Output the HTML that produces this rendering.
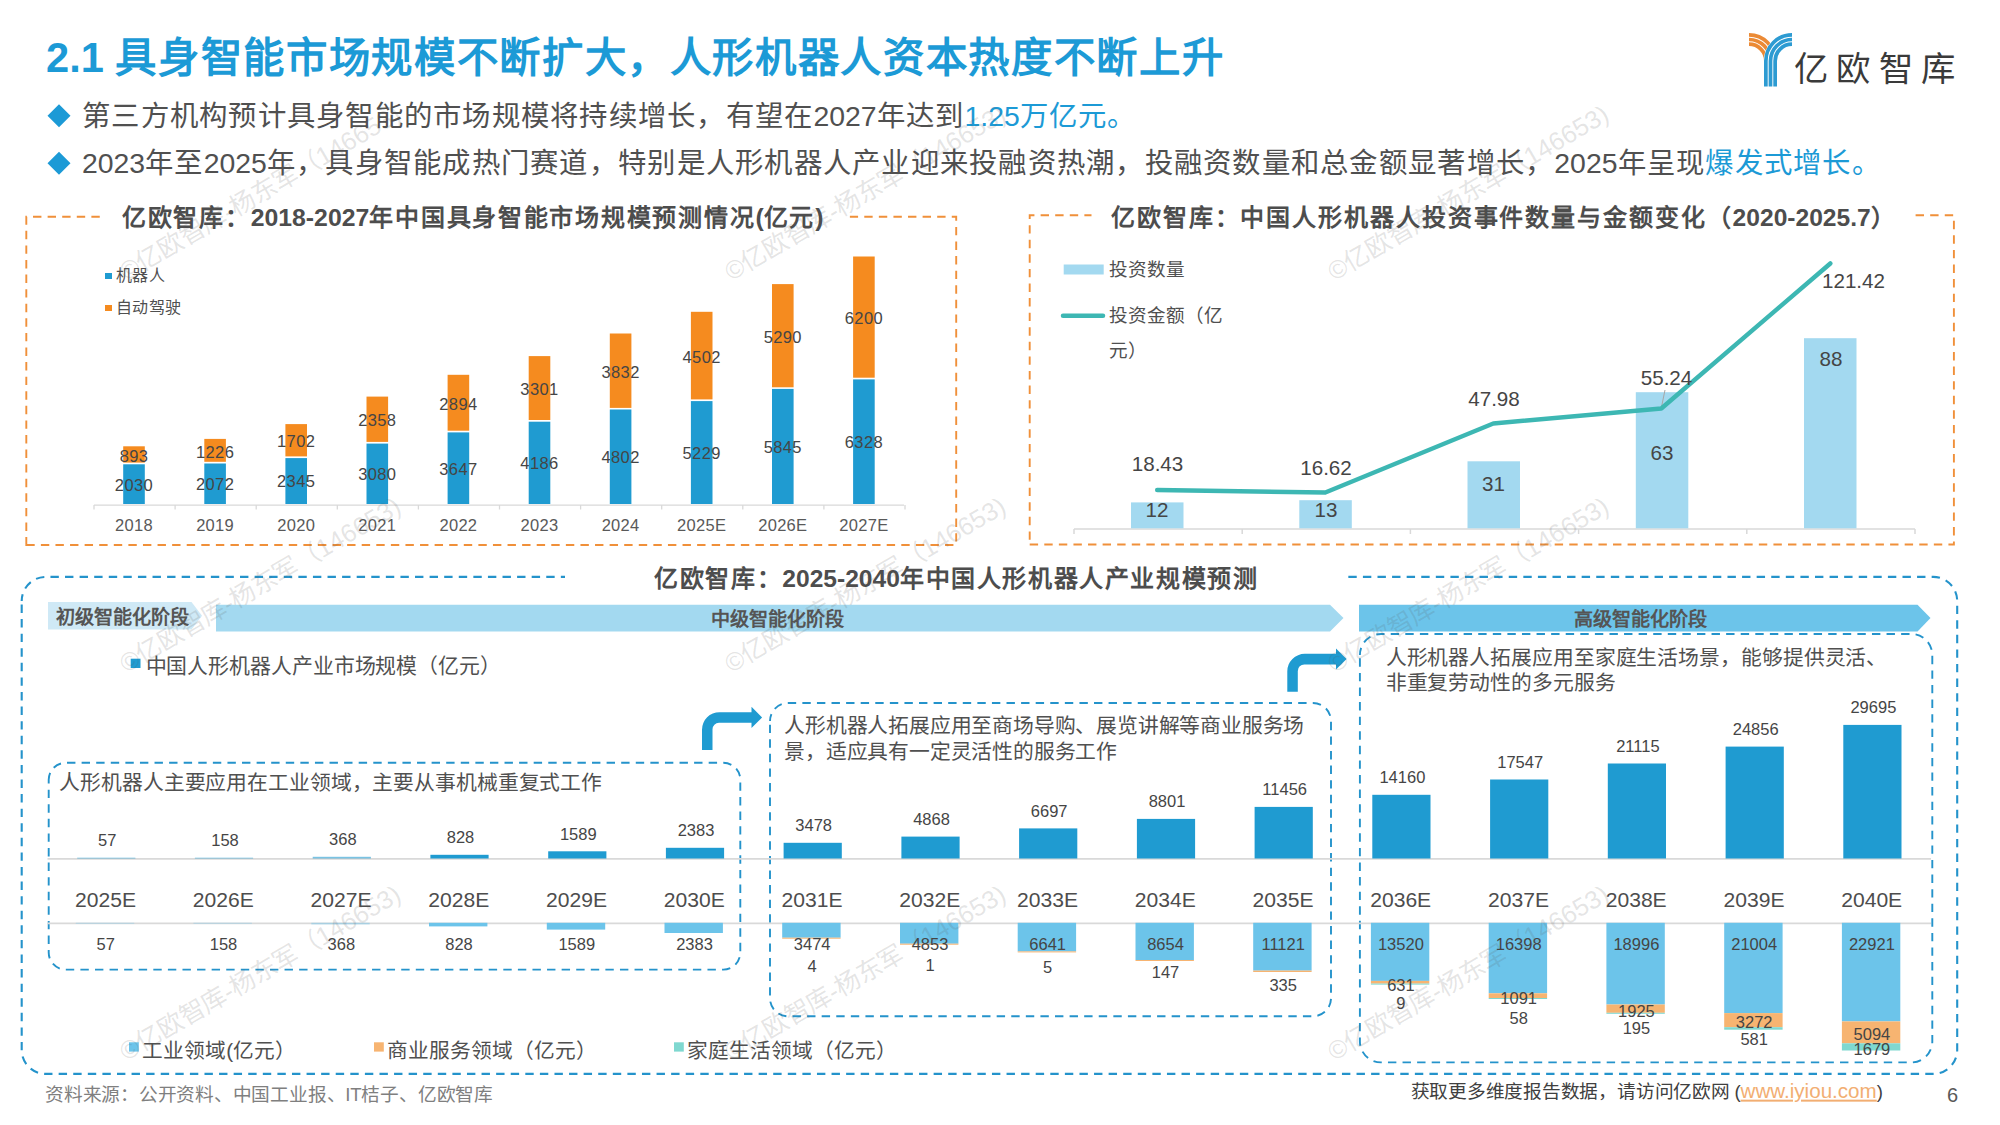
<!DOCTYPE html>
<html lang="zh-CN"><head><meta charset="utf-8"><title>2.1 具身智能市场规模</title>
<style>
html,body{margin:0;padding:0;background:#fff}
#p{position:relative;width:2000px;height:1125px;overflow:hidden;background:#fff;font-family:"Liberation Sans",sans-serif;color:#404040;font-weight:300}
#p svg{position:absolute;left:0;top:0}
.t{position:absolute;white-space:nowrap;line-height:1}
.a{letter-spacing:0}
.l{transform:translateY(-50%)}
.c{transform:translate(-50%,-50%)}
.r{transform:translate(-100%,-50%)}
.wm{position:absolute;white-space:nowrap;line-height:1;font-size:25.4px;color:rgba(90,90,90,0.165);font-weight:300;transform-origin:0 50%;transform:translateY(-50%) rotate(-30.3deg)}
</style></head><body><div id="p">
<svg width="2000" height="1125" viewBox="0 0 2000 1125">
<path d="M59 104.3 L70.5 115.8 L59 127.3 L47.5 115.8 Z" fill="#1C9AD6"/>
<path d="M59 151.8 L70.5 163.3 L59 174.8 L47.5 163.3 Z" fill="#1C9AD6"/>
<path d="M1763.5 86.6 V61 A28.5 28.5 0 0 1 1792 32.5 V47.5 A13.5 13.5 0 0 0 1777.7 61 V86.6 Z" fill="#fff"/>
<path d="M1749 44.15 A16.85 16.85 0 0 1 1765.85 61" fill="none" stroke="#EB8A35" stroke-width="3.7"/><path d="M1749 39.5 A21.5 21.5 0 0 1 1770.5 61" fill="none" stroke="#EB8A35" stroke-width="3.7"/><path d="M1749 34.85 A26.15 26.15 0 0 1 1775.15 61" fill="none" stroke="#EB8A35" stroke-width="3.7"/>
<path d="M1763.6 86.6 V61 A28.4 28.4 0 0 1 1792 32.6 V47.4 A13.6 13.6 0 0 0 1777.6 61 V86.6 Z" fill="#fff"/>
<path d="M1775.15 86.6 V61 A16.85 16.85 0 0 1 1792 44.15" fill="none" stroke="#2D9BD2" stroke-width="3.7"/><path d="M1770.5 86.6 V61 A21.5 21.5 0 0 1 1792 39.5" fill="none" stroke="#2D9BD2" stroke-width="3.7"/><path d="M1765.85 86.6 V61 A26.15 26.15 0 0 1 1792 34.85" fill="none" stroke="#2D9BD2" stroke-width="3.7"/>
<path d="M26.3 545 H956.2 V216.8 H26.3 Z" fill="none" stroke="#F0903A" stroke-width="1.9" stroke-dasharray="8.4 6.183"/>
<rect x="100.6" y="205" width="749" height="24" fill="#fff"/>
<rect x="105" y="273" width="7" height="6" fill="#1F9BD1"/>
<rect x="105" y="305" width="7" height="6" fill="#F58B1F"/>
<path d="M94 505.1 H904" stroke="#D9D9D9" stroke-width="1.3" fill="none"/>
<path d="M94.0 505 V509.5" stroke="#D9D9D9" stroke-width="1.3"/>
<path d="M175.1 505 V509.5" stroke="#D9D9D9" stroke-width="1.3"/>
<path d="M256.2 505 V509.5" stroke="#D9D9D9" stroke-width="1.3"/>
<path d="M337.3 505 V509.5" stroke="#D9D9D9" stroke-width="1.3"/>
<path d="M418.4 505 V509.5" stroke="#D9D9D9" stroke-width="1.3"/>
<path d="M499.5 505 V509.5" stroke="#D9D9D9" stroke-width="1.3"/>
<path d="M580.6 505 V509.5" stroke="#D9D9D9" stroke-width="1.3"/>
<path d="M661.7 505 V509.5" stroke="#D9D9D9" stroke-width="1.3"/>
<path d="M742.8 505 V509.5" stroke="#D9D9D9" stroke-width="1.3"/>
<path d="M823.9 505 V509.5" stroke="#D9D9D9" stroke-width="1.3"/>
<path d="M905.0 505 V509.5" stroke="#D9D9D9" stroke-width="1.3"/>
<rect x="123.2" y="464.3" width="21.6" height="39.7" fill="#1F9BD1"/>
<rect x="123.2" y="446.3" width="21.6" height="16.3" fill="#F58B1F"/>
<rect x="204.3" y="463.5" width="21.6" height="40.5" fill="#1F9BD1"/>
<rect x="204.3" y="438.9" width="21.6" height="22.9" fill="#F58B1F"/>
<rect x="285.4" y="458.1" width="21.6" height="45.9" fill="#1F9BD1"/>
<rect x="285.4" y="424.1" width="21.6" height="32.3" fill="#F58B1F"/>
<rect x="366.5" y="443.6" width="21.6" height="60.4" fill="#1F9BD1"/>
<rect x="366.5" y="396.6" width="21.6" height="45.3" fill="#F58B1F"/>
<rect x="447.6" y="432.4" width="21.6" height="71.6" fill="#1F9BD1"/>
<rect x="447.6" y="374.8" width="21.6" height="55.9" fill="#F58B1F"/>
<rect x="528.7" y="421.7" width="21.6" height="82.3" fill="#1F9BD1"/>
<rect x="528.7" y="356.1" width="21.6" height="63.9" fill="#F58B1F"/>
<rect x="609.8" y="409.5" width="21.6" height="94.5" fill="#1F9BD1"/>
<rect x="609.8" y="333.5" width="21.6" height="74.4" fill="#F58B1F"/>
<rect x="690.9" y="401.1" width="21.6" height="102.9" fill="#1F9BD1"/>
<rect x="690.9" y="311.8" width="21.6" height="87.6" fill="#F58B1F"/>
<rect x="772.0" y="388.9" width="21.6" height="115.1" fill="#1F9BD1"/>
<rect x="772.0" y="284.1" width="21.6" height="103.2" fill="#F58B1F"/>
<rect x="853.1" y="379.4" width="21.6" height="124.6" fill="#1F9BD1"/>
<rect x="853.1" y="256.5" width="21.6" height="121.2" fill="#F58B1F"/>
<path d="M1029.7 544.5 H1953.9 V215.3 H1029.7 Z" fill="none" stroke="#F0903A" stroke-width="1.9" stroke-dasharray="8.4 6.183"/>
<rect x="1091.5" y="205" width="822" height="24" fill="#fff"/>
<rect x="1063.7" y="264.5" width="40" height="10" fill="#A3D9F0"/>
<path d="M1063 315.8 H1103" stroke="#3DB7B3" stroke-width="4.5" stroke-linecap="round"/>
<path d="M1074 529 H1915" stroke="#D9D9D9" stroke-width="1.5" fill="none"/>
<path d="M1074.0 529 V534" stroke="#D9D9D9" stroke-width="1.5"/>
<path d="M1242.2 529 V534" stroke="#D9D9D9" stroke-width="1.5"/>
<path d="M1410.4 529 V534" stroke="#D9D9D9" stroke-width="1.5"/>
<path d="M1578.6 529 V534" stroke="#D9D9D9" stroke-width="1.5"/>
<path d="M1746.8 529 V534" stroke="#D9D9D9" stroke-width="1.5"/>
<path d="M1915.0 529 V534" stroke="#D9D9D9" stroke-width="1.5"/>
<rect x="1131.0" y="502.4" width="52.5" height="25.9" fill="#A3D9F0"/>
<rect x="1299.3" y="500.2" width="52.5" height="28.1" fill="#A3D9F0"/>
<rect x="1467.5" y="461.3" width="52.5" height="67.0" fill="#A3D9F0"/>
<rect x="1635.8" y="392.2" width="52.5" height="136.1" fill="#A3D9F0"/>
<rect x="1804.0" y="338.2" width="52.5" height="190.1" fill="#A3D9F0"/>
<path d="M1665 390 L1661.5 407" stroke="#a6a6a6" stroke-width="1"/>
<path d="M1157.2 490 L1325.3 492.5 L1493.3 423.5 L1661.3 408.5 L1830.3 263.5" fill="none" stroke="#3DB7B3" stroke-width="4.5" stroke-linejoin="round" stroke-linecap="round"/>
<path d="M21.7 600.9 A24 24 0 0 1 45.7 576.9 H1933.2 A24 24 0 0 1 1957.2 600.9 V1049.9 A24 24 0 0 1 1933.2 1073.9 H45.7 A24 24 0 0 1 21.7 1049.9 Z" fill="none" stroke="#2493CB" stroke-width="2.1" stroke-dasharray="8.4 6.183" stroke-dashoffset="1.55"/><rect x="565" y="566" width="781.5" height="24" fill="#fff"/>
<path d="M48 602 H191.5 L202 615.8 L191.5 629.5 H48 Z" fill="#CFE9F6"/>
<path d="M216 604.8 H1330 L1343.5 618.1 L1330 631.4 H216 Z" fill="#A3D9F0"/>
<path d="M1359 604.8 H1917.5 L1930.5 618.1 L1917.5 631.4 H1359 Z" fill="#6CC4EA"/>
<rect x="130.7" y="658.7" width="9.8" height="9.3" fill="#1F9BD1"/>
<path d="M48.7 779.8 A17 17 0 0 1 65.7 762.8 H723.3 A17 17 0 0 1 740.3 779.8 V952.6 A17 17 0 0 1 723.3 969.6 H65.7 A17 17 0 0 1 48.7 952.6 Z" fill="none" stroke="#2493CB" stroke-width="1.9" stroke-dasharray="8.4 6.183" stroke-dashoffset="1.3"/>
<path d="M770 721 A18 18 0 0 1 788 703 H1313 A18 18 0 0 1 1331 721 V998.3 A18 18 0 0 1 1313 1016.3 H788 A18 18 0 0 1 770 998.3 Z" fill="none" stroke="#2493CB" stroke-width="1.9" stroke-dasharray="8.4 6.183" stroke-dashoffset="1.3"/>
<path d="M1359.9 655 A21 21 0 0 1 1380.9 634 H1911.3 A21 21 0 0 1 1932.3 655 V1041.4 A21 21 0 0 1 1911.3 1062.4 H1380.9 A21 21 0 0 1 1359.9 1041.4 Z" fill="none" stroke="#2493CB" stroke-width="1.9" stroke-dasharray="8.4 6.183" stroke-dashoffset="1.15"/>
<path d="M702 750.0999999999999 V729.6999999999999 A17.5 17.5 0 0 1 719.5 712.1999999999999 H751.5 V706.8 L762.1 717.4 L751.5 728.0 V722.8 H719 A6.5 6.5 0 0 0 712.5 729.3 V750.0999999999999 Z" fill="#1F9BD1"/>
<path d="M1287.3 691.6999999999999 V671.3 A17.5 17.5 0 0 1 1304.8 653.8 H1336.0 V648.4 L1346.6 659.0 L1336.0 669.6 V664.4 H1304.3 A6.5 6.5 0 0 0 1297.8 670.9 V691.6999999999999 Z" fill="#1F9BD1"/>
<path d="M47.5 858.9 H1931 M47.5 923.4 H1931" stroke="#D9D9D9" stroke-width="1.6" fill="none"/>
<rect x="77.2" y="857.7" width="58.2" height="0.8" fill="#1F9BD1" opacity="0.6"/>
<rect x="75.8" y="922.8" width="58.4" height="0.8" fill="#6CC4EA" opacity="0.45"/>
<rect x="194.9" y="857.7" width="58.2" height="0.8" fill="#1F9BD1" opacity="0.6"/>
<rect x="193.5" y="922.8" width="58.4" height="0.8" fill="#6CC4EA" opacity="0.45"/>
<rect x="312.7" y="856.8" width="58.2" height="1.7" fill="#1F9BD1" opacity="0.6"/>
<rect x="311.3" y="922.8" width="58.4" height="1.6" fill="#6CC4EA" opacity="0.45"/>
<rect x="430.4" y="854.8" width="58.2" height="3.7" fill="#1F9BD1" opacity="1"/>
<rect x="429.0" y="922.8" width="58.4" height="3.6" fill="#6CC4EA" opacity="1"/>
<rect x="548.2" y="851.3" width="58.2" height="7.2" fill="#1F9BD1" opacity="1"/>
<rect x="546.8" y="922.8" width="58.4" height="6.8" fill="#6CC4EA" opacity="1"/>
<rect x="665.9" y="847.8" width="58.2" height="10.7" fill="#1F9BD1" opacity="1"/>
<rect x="664.5" y="922.8" width="58.4" height="10.2" fill="#6CC4EA" opacity="1"/>
<rect x="783.6" y="842.8" width="58.2" height="15.7" fill="#1F9BD1" opacity="1"/>
<rect x="782.2" y="922.8" width="58.4" height="14.9" fill="#6CC4EA" opacity="1"/>
<rect x="782.2" y="937.7" width="58.4" height="1.0" fill="#F7B471"/>
<rect x="901.4" y="836.6" width="58.2" height="21.9" fill="#1F9BD1" opacity="1"/>
<rect x="900.0" y="922.8" width="58.4" height="20.9" fill="#6CC4EA" opacity="1"/>
<rect x="900.0" y="943.7" width="58.4" height="1.0" fill="#F7B471"/>
<rect x="1019.1" y="828.4" width="58.2" height="30.1" fill="#1F9BD1" opacity="1"/>
<rect x="1017.7" y="922.8" width="58.4" height="28.6" fill="#6CC4EA" opacity="1"/>
<rect x="1017.7" y="951.4" width="58.4" height="1.0" fill="#F7B471"/>
<rect x="1136.9" y="818.9" width="58.2" height="39.6" fill="#1F9BD1" opacity="1"/>
<rect x="1135.5" y="922.8" width="58.4" height="37.2" fill="#6CC4EA" opacity="1"/>
<rect x="1135.5" y="960.0" width="58.4" height="1.0" fill="#F7B471"/>
<rect x="1254.6" y="806.9" width="58.2" height="51.6" fill="#1F9BD1" opacity="1"/>
<rect x="1253.2" y="922.8" width="58.4" height="47.8" fill="#6CC4EA" opacity="1"/>
<rect x="1253.2" y="970.6" width="58.4" height="1.4" fill="#F7B471"/>
<rect x="1372.3" y="794.8" width="58.2" height="63.7" fill="#1F9BD1" opacity="1"/>
<rect x="1370.9" y="922.8" width="58.4" height="58.1" fill="#6CC4EA" opacity="1"/>
<rect x="1370.9" y="980.9" width="58.4" height="2.7" fill="#F7B471"/>
<rect x="1370.9" y="983.6" width="58.4" height="1.0" fill="#7FD8D0"/>
<rect x="1490.1" y="779.5" width="58.2" height="79.0" fill="#1F9BD1" opacity="1"/>
<rect x="1488.7" y="922.8" width="58.4" height="70.5" fill="#6CC4EA" opacity="1"/>
<rect x="1488.7" y="993.3" width="58.4" height="4.7" fill="#F7B471"/>
<rect x="1488.7" y="998.0" width="58.4" height="1.0" fill="#7FD8D0"/>
<rect x="1607.8" y="763.5" width="58.2" height="95.0" fill="#1F9BD1" opacity="1"/>
<rect x="1606.4" y="922.8" width="58.4" height="81.7" fill="#6CC4EA" opacity="1"/>
<rect x="1606.4" y="1004.5" width="58.4" height="8.3" fill="#F7B471"/>
<rect x="1606.4" y="1012.8" width="58.4" height="1.0" fill="#7FD8D0"/>
<rect x="1725.6" y="746.6" width="58.2" height="111.9" fill="#1F9BD1" opacity="1"/>
<rect x="1724.2" y="922.8" width="58.4" height="90.3" fill="#6CC4EA" opacity="1"/>
<rect x="1724.2" y="1013.1" width="58.4" height="14.1" fill="#F7B471"/>
<rect x="1724.2" y="1027.2" width="58.4" height="2.5" fill="#7FD8D0"/>
<rect x="1843.3" y="724.9" width="58.2" height="133.6" fill="#1F9BD1" opacity="1"/>
<rect x="1841.9" y="922.8" width="58.4" height="98.6" fill="#6CC4EA" opacity="1"/>
<rect x="1841.9" y="1021.4" width="58.4" height="21.9" fill="#F7B471"/>
<rect x="1841.9" y="1043.3" width="58.4" height="7.2" fill="#7FD8D0"/>
<rect x="129" y="1042.3" width="9.8" height="9.3" fill="#6CC4EA"/>
<rect x="374" y="1042.3" width="9.8" height="9.3" fill="#F7B471"/>
<rect x="674" y="1042.3" width="9.8" height="9.3" fill="#7FD8D0"/>
</svg>
<div class="t l" style="left:46.0px;top:57.50px;font-size:41.4px;color:#1C9AD6;letter-spacing:1.65px;font-weight:bold;"><span class="a" style="font-size:41.6px">2.1 </span>具身智能市场规模不断扩大，人形机器人资本热度不断上升</div>
<div class="t l" style="left:82.0px;top:115.50px;font-size:28.4px;color:#505050;letter-spacing:1.26px;">第三方机构预计具身智能的市场规模将持续增长，有望在<span class="a" style="font-size:28.4px">2027</span>年达到<span style="color:#1C9AD6"><span class="a" style="font-size:28.4px">1.25</span>万亿元。</span></div>
<div class="t l" style="left:82.0px;top:163.00px;font-size:28.4px;color:#505050;letter-spacing:1.26px;"><span class="a" style="font-size:28.4px">2023</span>年至<span class="a" style="font-size:28.4px">2025</span>年，具身智能成热门赛道，特别是人形机器人产业迎来投融资热潮，投融资数量和总金额显著增长，<span class="a" style="font-size:28.4px">2025</span>年呈现<span style="color:#1C9AD6">爆发式增长。</span></div>
<div class="t l" style="left:1793.5px;top:69.00px;font-size:34.4px;color:#3a3a3a;letter-spacing:8.5px;font-weight:300;">亿欧智库</div>
<div class="t l" style="left:122.0px;top:217.50px;font-size:24px;color:#4d4d4d;letter-spacing:1.74px;font-weight:bold;">亿欧智库：<span class="a" style="font-size:24.8px">2018-2027</span>年中国具身智能市场规模预测情况<span class="a" style="font-size:24.8px">(</span>亿元<span class="a" style="font-size:24.8px">)</span></div>
<div class="t l" style="left:116.0px;top:276.00px;font-size:16px;color:#505050;letter-spacing:0.25px;">机器人</div>
<div class="t l" style="left:116.0px;top:307.50px;font-size:16px;color:#505050;letter-spacing:0.25px;">自动驾驶</div>
<div class="t c" style="left:134.0px;top:484.55px;font-size:16.5px;color:#454545;letter-spacing:0.4px;">2030</div>
<div class="t c" style="left:134.0px;top:455.68px;font-size:16.5px;color:#454545;letter-spacing:0.4px;">893</div>
<div class="t c" style="left:134.0px;top:524.50px;font-size:16.5px;color:#595959;letter-spacing:0.3px;">2018</div>
<div class="t c" style="left:215.1px;top:484.14px;font-size:16.5px;color:#454545;letter-spacing:0.4px;">2072</div>
<div class="t c" style="left:215.1px;top:451.56px;font-size:16.5px;color:#454545;letter-spacing:0.4px;">1226</div>
<div class="t c" style="left:215.1px;top:524.50px;font-size:16.5px;color:#595959;letter-spacing:0.3px;">2019</div>
<div class="t c" style="left:296.2px;top:481.44px;font-size:16.5px;color:#454545;letter-spacing:0.4px;">2345</div>
<div class="t c" style="left:296.2px;top:441.47px;font-size:16.5px;color:#454545;letter-spacing:0.4px;">1702</div>
<div class="t c" style="left:296.2px;top:524.50px;font-size:16.5px;color:#595959;letter-spacing:0.3px;">2020</div>
<div class="t c" style="left:377.3px;top:474.18px;font-size:16.5px;color:#454545;letter-spacing:0.4px;">3080</div>
<div class="t c" style="left:377.3px;top:420.47px;font-size:16.5px;color:#454545;letter-spacing:0.4px;">2358</div>
<div class="t c" style="left:377.3px;top:524.50px;font-size:16.5px;color:#595959;letter-spacing:0.3px;">2021</div>
<div class="t c" style="left:458.4px;top:468.58px;font-size:16.5px;color:#454545;letter-spacing:0.4px;">3647</div>
<div class="t c" style="left:458.4px;top:403.98px;font-size:16.5px;color:#454545;letter-spacing:0.4px;">2894</div>
<div class="t c" style="left:458.4px;top:524.50px;font-size:16.5px;color:#595959;letter-spacing:0.3px;">2022</div>
<div class="t c" style="left:539.5px;top:463.26px;font-size:16.5px;color:#454545;letter-spacing:0.4px;">4186</div>
<div class="t c" style="left:539.5px;top:389.31px;font-size:16.5px;color:#454545;letter-spacing:0.4px;">3301</div>
<div class="t c" style="left:539.5px;top:524.50px;font-size:16.5px;color:#595959;letter-spacing:0.3px;">2023</div>
<div class="t c" style="left:620.6px;top:457.17px;font-size:16.5px;color:#454545;letter-spacing:0.4px;">4802</div>
<div class="t c" style="left:620.6px;top:371.90px;font-size:16.5px;color:#454545;letter-spacing:0.4px;">3832</div>
<div class="t c" style="left:620.6px;top:524.50px;font-size:16.5px;color:#595959;letter-spacing:0.3px;">2024</div>
<div class="t c" style="left:701.7px;top:452.96px;font-size:16.5px;color:#454545;letter-spacing:0.4px;">5229</div>
<div class="t c" style="left:701.7px;top:356.85px;font-size:16.5px;color:#454545;letter-spacing:0.4px;">4502</div>
<div class="t c" style="left:701.7px;top:524.50px;font-size:16.5px;color:#595959;letter-spacing:0.3px;">2025E</div>
<div class="t c" style="left:782.8px;top:446.87px;font-size:16.5px;color:#454545;letter-spacing:0.4px;">5845</div>
<div class="t c" style="left:782.8px;top:336.90px;font-size:16.5px;color:#454545;letter-spacing:0.4px;">5290</div>
<div class="t c" style="left:782.8px;top:524.50px;font-size:16.5px;color:#595959;letter-spacing:0.3px;">2026E</div>
<div class="t c" style="left:863.9px;top:442.10px;font-size:16.5px;color:#454545;letter-spacing:0.4px;">6328</div>
<div class="t c" style="left:863.9px;top:318.37px;font-size:16.5px;color:#454545;letter-spacing:0.4px;">6200</div>
<div class="t c" style="left:863.9px;top:524.50px;font-size:16.5px;color:#595959;letter-spacing:0.3px;">2027E</div>
<div class="t l" style="left:1111.0px;top:218.00px;font-size:24px;color:#4d4d4d;letter-spacing:1.9px;font-weight:bold;">亿欧智库：中国人形机器人投资事件数量与金额变化（<span class="a" style="font-size:24.6px">2020-2025.7</span>）</div>
<div class="t l" style="left:1108.5px;top:270.00px;font-size:18.6px;color:#505050;">投资数量</div>
<div class="t l" style="left:1108.5px;top:316.00px;font-size:18.6px;color:#505050;">投资金额（亿</div>
<div class="t l" style="left:1108.5px;top:350.50px;font-size:18.6px;color:#505050;">元）</div>
<div class="t c" style="left:1157.0px;top:510.00px;font-size:20.6px;color:#454545;">12</div>
<div class="t c" style="left:1326.0px;top:510.00px;font-size:20.6px;color:#454545;">13</div>
<div class="t c" style="left:1493.5px;top:484.00px;font-size:20.6px;color:#454545;">31</div>
<div class="t c" style="left:1662.0px;top:453.00px;font-size:20.6px;color:#454545;">63</div>
<div class="t c" style="left:1831.0px;top:359.00px;font-size:20.6px;color:#454545;">88</div>
<div class="t c" style="left:1157.5px;top:464.00px;font-size:20.6px;color:#454545;">18.43</div>
<div class="t c" style="left:1326.0px;top:468.00px;font-size:20.6px;color:#454545;">16.62</div>
<div class="t c" style="left:1494.0px;top:398.50px;font-size:20.6px;color:#454545;">47.98</div>
<div class="t c" style="left:1666.5px;top:378.00px;font-size:20.6px;color:#454545;">55.24</div>
<div class="t c" style="left:1853.5px;top:281.00px;font-size:20.6px;color:#454545;">121.42</div>
<div class="t c" style="left:956.3px;top:579.00px;font-size:24px;color:#4d4d4d;letter-spacing:1.6px;font-weight:bold;">亿欧智库：<span class="a" style="font-size:24.6px">2025-2040</span>年中国人形机器人产业规模预测</div>
<div class="t c" style="left:122.0px;top:617.50px;font-size:19.1px;color:#555;font-weight:bold;">初级智能化阶段</div>
<div class="t c" style="left:777.0px;top:620.00px;font-size:19.1px;color:#555;font-weight:bold;">中级智能化阶段</div>
<div class="t c" style="left:1640.0px;top:620.00px;font-size:19.1px;color:#555;font-weight:bold;">高级智能化阶段</div>
<div class="t l" style="left:145.5px;top:666.00px;font-size:20.9px;color:#505050;letter-spacing:-0.1px;">中国人形机器人产业市场规模（亿元）</div>
<div class="t l" style="left:59.4px;top:782.50px;font-size:20.8px;color:#505050;letter-spacing:-0.13px;">人形机器人主要应用在工业领域，主要从事机械重复式工作</div>
<div class="t l" style="left:784.2px;top:725.70px;font-size:20.8px;color:#505050;letter-spacing:-0.2px;">人形机器人拓展应用至商场导购、展览讲解等商业服务场</div>
<div class="t l" style="left:784.2px;top:752.00px;font-size:20.8px;color:#505050;letter-spacing:-0.2px;">景，适应具有一定灵活性的服务工作</div>
<div class="t l" style="left:1385.7px;top:657.50px;font-size:20.8px;color:#505050;letter-spacing:-0.1px;">人形机器人拓展应用至家庭生活场景，能够提供灵活、</div>
<div class="t l" style="left:1385.7px;top:682.50px;font-size:20.8px;color:#505050;letter-spacing:-0.1px;">非重复劳动性的多元服务</div>
<div class="t c" style="left:107.3px;top:840.39px;font-size:16.5px;color:#454545;">57</div>
<div class="t c" style="left:105.6px;top:900.00px;font-size:21.1px;color:#4d4d4d;">2025E</div>
<div class="t c" style="left:105.8px;top:943.50px;font-size:16.5px;color:#454545;">57</div>
<div class="t c" style="left:225.0px;top:839.94px;font-size:16.5px;color:#454545;">158</div>
<div class="t c" style="left:223.3px;top:900.00px;font-size:21.1px;color:#4d4d4d;">2026E</div>
<div class="t c" style="left:223.5px;top:943.50px;font-size:16.5px;color:#454545;">158</div>
<div class="t c" style="left:342.8px;top:838.99px;font-size:16.5px;color:#454545;">368</div>
<div class="t c" style="left:341.1px;top:900.00px;font-size:21.1px;color:#4d4d4d;">2027E</div>
<div class="t c" style="left:341.3px;top:943.50px;font-size:16.5px;color:#454545;">368</div>
<div class="t c" style="left:460.5px;top:836.92px;font-size:16.5px;color:#454545;">828</div>
<div class="t c" style="left:458.8px;top:900.00px;font-size:21.1px;color:#4d4d4d;">2028E</div>
<div class="t c" style="left:459.0px;top:943.50px;font-size:16.5px;color:#454545;">828</div>
<div class="t c" style="left:578.3px;top:833.50px;font-size:16.5px;color:#454545;">1589</div>
<div class="t c" style="left:576.6px;top:900.00px;font-size:21.1px;color:#4d4d4d;">2029E</div>
<div class="t c" style="left:576.8px;top:943.50px;font-size:16.5px;color:#454545;">1589</div>
<div class="t c" style="left:696.0px;top:829.93px;font-size:16.5px;color:#454545;">2383</div>
<div class="t c" style="left:694.3px;top:900.00px;font-size:21.1px;color:#4d4d4d;">2030E</div>
<div class="t c" style="left:694.5px;top:943.50px;font-size:16.5px;color:#454545;">2383</div>
<div class="t c" style="left:813.7px;top:825.00px;font-size:16.5px;color:#454545;">3478</div>
<div class="t c" style="left:812.0px;top:900.00px;font-size:21.1px;color:#4d4d4d;">2031E</div>
<div class="t c" style="left:812.2px;top:943.50px;font-size:16.5px;color:#454545;">3474</div>
<div class="t c" style="left:812.2px;top:965.90px;font-size:16.5px;color:#454545;">4</div>
<div class="t c" style="left:931.5px;top:818.74px;font-size:16.5px;color:#454545;">4868</div>
<div class="t c" style="left:929.8px;top:900.00px;font-size:21.1px;color:#4d4d4d;">2032E</div>
<div class="t c" style="left:930.0px;top:943.50px;font-size:16.5px;color:#454545;">4853</div>
<div class="t c" style="left:930.0px;top:964.70px;font-size:16.5px;color:#454545;">1</div>
<div class="t c" style="left:1049.2px;top:810.51px;font-size:16.5px;color:#454545;">6697</div>
<div class="t c" style="left:1047.5px;top:900.00px;font-size:21.1px;color:#4d4d4d;">2033E</div>
<div class="t c" style="left:1047.7px;top:943.50px;font-size:16.5px;color:#454545;">6641</div>
<div class="t c" style="left:1047.7px;top:967.20px;font-size:16.5px;color:#454545;">5</div>
<div class="t c" style="left:1167.0px;top:801.05px;font-size:16.5px;color:#454545;">8801</div>
<div class="t c" style="left:1165.3px;top:900.00px;font-size:21.1px;color:#4d4d4d;">2034E</div>
<div class="t c" style="left:1165.5px;top:943.50px;font-size:16.5px;color:#454545;">8654</div>
<div class="t c" style="left:1165.5px;top:971.70px;font-size:16.5px;color:#454545;">147</div>
<div class="t c" style="left:1284.7px;top:789.10px;font-size:16.5px;color:#454545;">11456</div>
<div class="t c" style="left:1283.0px;top:900.00px;font-size:21.1px;color:#4d4d4d;">2035E</div>
<div class="t c" style="left:1283.2px;top:943.50px;font-size:16.5px;color:#454545;">11121</div>
<div class="t c" style="left:1283.2px;top:984.50px;font-size:16.5px;color:#454545;">335</div>
<div class="t c" style="left:1402.4px;top:776.93px;font-size:16.5px;color:#454545;">14160</div>
<div class="t c" style="left:1400.7px;top:900.00px;font-size:21.1px;color:#4d4d4d;">2036E</div>
<div class="t c" style="left:1400.9px;top:943.50px;font-size:16.5px;color:#454545;">13520</div>
<div class="t c" style="left:1400.9px;top:984.50px;font-size:16.5px;color:#454545;">631</div>
<div class="t c" style="left:1400.9px;top:1002.50px;font-size:16.5px;color:#454545;">9</div>
<div class="t c" style="left:1520.2px;top:761.69px;font-size:16.5px;color:#454545;">17547</div>
<div class="t c" style="left:1518.5px;top:900.00px;font-size:21.1px;color:#4d4d4d;">2037E</div>
<div class="t c" style="left:1518.7px;top:943.50px;font-size:16.5px;color:#454545;">16398</div>
<div class="t c" style="left:1518.7px;top:998.20px;font-size:16.5px;color:#454545;">1091</div>
<div class="t c" style="left:1518.7px;top:1018.10px;font-size:16.5px;color:#454545;">58</div>
<div class="t c" style="left:1637.9px;top:745.63px;font-size:16.5px;color:#454545;">21115</div>
<div class="t c" style="left:1636.2px;top:900.00px;font-size:21.1px;color:#4d4d4d;">2038E</div>
<div class="t c" style="left:1636.4px;top:943.50px;font-size:16.5px;color:#454545;">18996</div>
<div class="t c" style="left:1636.4px;top:1010.60px;font-size:16.5px;color:#454545;">1925</div>
<div class="t c" style="left:1636.4px;top:1027.80px;font-size:16.5px;color:#454545;">195</div>
<div class="t c" style="left:1755.7px;top:728.80px;font-size:16.5px;color:#454545;">24856</div>
<div class="t c" style="left:1754.0px;top:900.00px;font-size:21.1px;color:#4d4d4d;">2039E</div>
<div class="t c" style="left:1754.2px;top:943.50px;font-size:16.5px;color:#454545;">21004</div>
<div class="t c" style="left:1754.2px;top:1021.80px;font-size:16.5px;color:#454545;">3272</div>
<div class="t c" style="left:1754.2px;top:1038.60px;font-size:16.5px;color:#454545;">581</div>
<div class="t c" style="left:1873.4px;top:707.02px;font-size:16.5px;color:#454545;">29695</div>
<div class="t c" style="left:1871.7px;top:900.00px;font-size:21.1px;color:#4d4d4d;">2040E</div>
<div class="t c" style="left:1871.9px;top:943.50px;font-size:16.5px;color:#454545;">22921</div>
<div class="t c" style="left:1871.9px;top:1033.70px;font-size:16.5px;color:#454545;">5094</div>
<div class="t c" style="left:1871.9px;top:1048.70px;font-size:16.5px;color:#454545;">1679</div>
<div class="t l" style="left:142.3px;top:1051.20px;font-size:20.7px;color:#505050;">工业领域(亿元）</div>
<div class="t l" style="left:387.3px;top:1051.20px;font-size:20.7px;color:#505050;">商业服务领域（亿元）</div>
<div class="t l" style="left:687.3px;top:1051.20px;font-size:20.7px;color:#505050;">家庭生活领域（亿元）</div>
<div class="t l" style="left:45.0px;top:1094.50px;font-size:18.7px;color:#7f7f7f;letter-spacing:-0.23px;">资料来源：公开资料、中国工业报、IT桔子、亿欧智库</div>
<div class="t l" style="left:1410.5px;top:1091.00px;font-size:18.7px;color:#404040;letter-spacing:-0.23px;">获取更多维度报告数据，请访问亿欧网 (<span style="color:#F2AE72;text-decoration:underline;font-size:20.6px;letter-spacing:0">www.iyiou.com</span>)</div>
<div class="t c" style="left:1952.5px;top:1094.50px;font-size:20px;color:#595959;">6</div>
<div class="wm" style="left:122px;top:274px">©亿欧智库-杨东军（146653)</div>
<div class="wm" style="left:122px;top:666px">©亿欧智库-杨东军（146653)</div>
<div class="wm" style="left:122px;top:1054px">©亿欧智库-杨东军（146653)</div>
<div class="wm" style="left:727px;top:274px">©亿欧智库-杨东军（146653)</div>
<div class="wm" style="left:727px;top:666px">©亿欧智库-杨东军（146653)</div>
<div class="wm" style="left:727px;top:1054px">©亿欧智库-杨东军（146653)</div>
<div class="wm" style="left:1330px;top:274px">©亿欧智库-杨东军（146653)</div>
<div class="wm" style="left:1330px;top:666px">©亿欧智库-杨东军（146653)</div>
<div class="wm" style="left:1330px;top:1054px">©亿欧智库-杨东军（146653)</div>
</div></body></html>
